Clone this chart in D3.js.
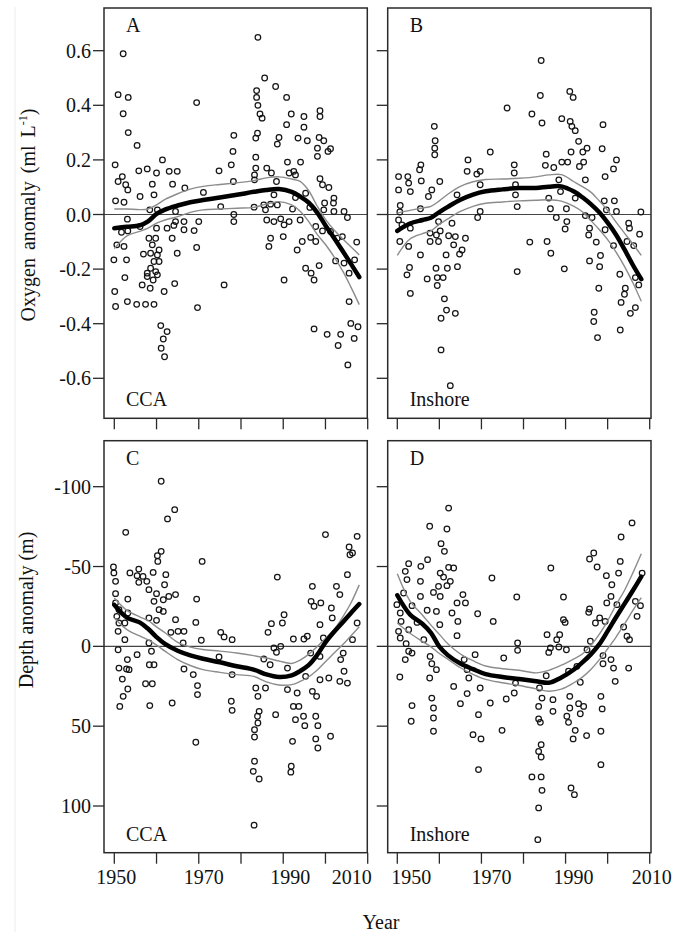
<!DOCTYPE html>
<html><head><meta charset="utf-8">
<script src="https://cdn.jsdelivr.net/npm/d3@7"></script>
<style>
html,body{margin:0;padding:0;background:#fff;}
svg text{font-family:"Liberation Serif","DejaVu Serif",serif;fill:#111;}
</style></head><body>
<svg id="chart" width="677" height="932"></svg>
<script>
// ---------------- DATA ----------------
const xTicks = [1950,1960,1970,1980,1990,2000,2010];
const xTickLabels = [1950,1970,1990,2010];
const oxyTicks = [0.6,0.4,0.2,0.0,-0.2,-0.4,-0.6];
const depthTicks = [-100,-50,0,50,100];

// Oxygen anomaly, CCA (panel A): [year, ml/L]
const oxyCCA = [[1952.1,0.589],[1950.9,0.439],[1953.3,0.429],[1952.1,0.369],[1953.3,0.300],[1955.4,0.253],[1969.5,0.410],[1978.3,0.290],[1978.1,0.231],[1977.7,0.182],[1974.8,0.160],[1978.2,0.121],[1950.2,0.182],[1961.4,0.200],[1955.8,0.160],[1957.8,0.167],[1960.0,0.152],[1963.0,0.158],[1964.9,0.158],[1951.9,0.139],[1950.9,0.121],[1952.7,0.109],[1953.2,0.090],[1959.0,0.111],[1963.8,0.111],[1966.7,0.097],[1971.1,0.081],[1956.1,0.066],[1959.4,0.072],[1950.3,0.050],[1952.3,0.045],[1958.4,0.017],[1960.2,0.017],[1964.5,0.011],[1975.2,0.029],[1978.3,0.000],[1978.3,-0.026],[1953.1,-0.017],[1964.5,-0.026],[1966.5,-0.026],[1970.0,-0.026],[1951.7,-0.065],[1956.1,-0.044],[1960.0,-0.050],[1962.5,-0.050],[1964.1,-0.040],[1966.5,-0.056],[1968.9,-0.059],[1953.2,-0.060],[1958.2,-0.087],[1959.8,-0.087],[1963.7,-0.087],[1950.6,-0.111],[1952.3,-0.117],[1969.5,-0.121],[1964.9,-0.142],[1956.9,-0.145],[1958.6,-0.142],[1960.2,-0.148],[1949.9,-0.166],[1952.9,-0.166],[1959.4,-0.172],[1960.6,-0.172],[1958.6,-0.197],[1959.8,-0.209],[1957.8,-0.227],[1959.2,-0.240],[1956.6,-0.258],[1958.5,-0.270],[1952.5,-0.231],[1964.3,-0.253],[1961.8,-0.282],[1976.0,-0.258],[1950.1,-0.282],[1950.3,-0.337],[1953.1,-0.319],[1955.3,-0.329],[1957.4,-0.329],[1959.4,-0.329],[1969.7,-0.341],[1961.0,-0.407],[1962.5,-0.429],[1961.6,-0.456],[1961.1,-0.490],[1961.9,-0.521],[1959.0,-0.111],[1960.6,-0.130],[1957.8,-0.215],[1960.2,-0.221],
[1984.0,0.649],[1985.6,0.500],[1988.2,0.469],[1983.7,0.454],[1983.7,0.429],[1984.0,0.400],[1984.5,0.368],[1985.0,0.353],[1990.8,0.429],[1991.9,0.368],[1994.9,0.359],[1998.7,0.380],[1998.7,0.359],[1990.8,0.329],[1994.9,0.320],[1983.9,0.298],[1983.5,0.280],[1989.0,0.282],[1988.6,0.258],[1993.5,0.280],[1995.7,0.270],[1998.5,0.282],[1999.6,0.270],[1998.1,0.243],[2001.2,0.241],[2000.6,0.231],[1998.1,0.213],[1983.5,0.210],[1991.0,0.192],[1994.1,0.192],[1983.5,0.170],[1986.1,0.170],[1987.2,0.152],[1991.4,0.152],[1992.5,0.158],[1992.9,0.145],[1983.2,0.145],[1983.2,0.127],[1988.4,0.121],[1998.7,0.131],[1999.3,0.109],[2000.8,0.099],[1987.8,0.072],[1995.3,0.078],[1992.9,0.062],[2002.0,0.060],[1983.1,0.027],[1985.4,0.035],[1987.0,0.038],[1988.6,0.035],[1992.2,0.020],[1996.3,0.026],[1999.8,0.042],[2001.9,0.042],[1999.6,0.017],[2002.0,0.011],[2004.4,0.011],[2005.2,-0.011],[1985.8,0.017],[1986.1,-0.020],[1987.8,-0.026],[1989.4,-0.016],[1990.2,-0.038],[1991.4,-0.026],[1994.0,-0.020],[1990.0,-0.081],[1987.0,-0.087],[1986.6,-0.117],[1993.3,-0.130],[1994.5,-0.099],[1996.5,-0.084],[1997.7,-0.099],[1997.7,-0.044],[1999.3,-0.060],[2001.2,-0.062],[2002.8,-0.087],[2004.0,-0.081],[2007.4,-0.101],[2002.4,-0.170],[2004.4,-0.178],[2006.9,-0.166],[2005.6,-0.215],[1995.3,-0.197],[1996.6,-0.215],[1998.5,-0.187],[1997.3,-0.240],[1990.2,-0.240],[2005.6,-0.319],[1997.3,-0.419],[2000.4,-0.439],[2003.6,-0.439],[2006.0,-0.399],[2007.7,-0.411],[2006.8,-0.454],[2003.0,-0.480],[2005.3,-0.551]];

// Oxygen anomaly, Inshore (panel B)
const oxyInshore = [[1958.8,0.323],[1959.0,0.270],[1958.9,0.243],[1958.9,0.219],[1976.1,0.390],[1972.1,0.229],[1966.8,0.200],[1955.6,0.182],[1955.3,0.164],[1966.6,0.158],[1969.7,0.158],[1968.9,0.148],[1950.3,0.139],[1952.5,0.139],[1952.7,0.115],[1955.7,0.123],[1960.1,0.121],[1950.3,0.090],[1953.1,0.084],[1958.2,0.090],[1957.4,0.066],[1964.2,0.072],[1955.5,0.021],[1969.7,0.109],[1977.8,0.182],[1977.8,0.152],[1978.1,0.109],[1978.1,0.072],[1978.5,0.029],[1969.7,0.011],[1969.1,-0.011],[1950.7,0.033],[1950.6,0.009],[1950.3,-0.020],[1951.1,-0.038],[1953.1,-0.050],[1959.8,-0.026],[1963.0,-0.032],[1957.8,-0.068],[1959.3,-0.075],[1960.2,-0.060],[1962.2,-0.078],[1963.8,-0.081],[1966.2,-0.087],[1957.8,-0.099],[1959.8,-0.099],[1963.4,-0.111],[1965.4,-0.130],[1950.6,-0.099],[1952.7,-0.117],[1955.5,-0.148],[1961.6,-0.148],[1964.8,-0.145],[1964.3,-0.191],[1961.9,-0.197],[1959.2,-0.197],[1957.1,-0.236],[1959.5,-0.231],[1960.9,-0.231],[1952.9,-0.194],[1952.3,-0.221],[1959.5,-0.260],[1953.1,-0.289],[1961.2,-0.309],[1961.7,-0.350],[1963.8,-0.362],[1960.4,-0.380],[1978.5,-0.209],[1960.4,-0.496],[1962.6,-0.627],
[1984.2,0.564],[1984.0,0.436],[1991.0,0.451],[1991.8,0.429],[1982.0,0.368],[1984.4,0.335],[1989.1,0.351],[1991.1,0.341],[1991.5,0.323],[1992.3,0.307],[1998.9,0.329],[1993.1,0.268],[1995.1,0.243],[1998.7,0.241],[1985.4,0.221],[1991.3,0.229],[1994.1,0.229],[2002.1,0.200],[1989.1,0.192],[1990.5,0.192],[1994.3,0.192],[1985.2,0.180],[1987.2,0.172],[1993.3,0.176],[2001.4,0.167],[1999.4,0.139],[1994.7,0.127],[1988.4,0.127],[1988.8,0.084],[1992.3,0.060],[1986.0,0.060],[1986.4,0.021],[1990.2,0.021],[1987.8,-0.011],[1994.7,-0.004],[1996.3,-0.011],[1999.2,0.050],[2001.6,0.050],[1999.7,0.017],[2002.1,0.011],[2007.9,0.009],[1990.3,-0.026],[1989.9,-0.053],[1995.7,-0.050],[1995.5,-0.075],[1997.3,-0.101],[1999.4,-0.056],[2001.4,-0.114],[2005.0,-0.032],[2005.2,-0.050],[2007.6,-0.072],[2004.6,-0.099],[2006.2,-0.114],[1981.5,-0.101],[1985.6,-0.099],[1986.5,-0.142],[1989.7,-0.199],[1995.7,-0.170],[1998.3,-0.150],[1998.1,-0.191],[2002.9,-0.219],[2006.6,-0.231],[2007.4,-0.258],[1997.9,-0.270],[2004.2,-0.270],[2004.0,-0.292],[2003.2,-0.322],[2006.6,-0.341],[2005.4,-0.362],[1996.8,-0.358],[1996.7,-0.392],[2003.0,-0.423],[1997.6,-0.451]];

// Depth anomaly, CCA (panel C): [year, m]
const depthCCA = [[1961.1,-103.4],[1964.3,-85.6],[1962.6,-79.8],[1952.7,-71.4],[1961.1,-59.5],[1960.2,-56.8],[1960.3,-53.2],[1970.8,-53.2],[1949.8,-49.7],[1949.9,-46.0],[1953.7,-46.0],[1955.8,-48.4],[1955.4,-44.3],[1956.8,-43.8],[1959.2,-46.3],[1962.2,-44.9],[1955.8,-40.1],[1957.7,-40.7],[1950.3,-40.7],[1961.9,-38.6],[1958.2,-35.5],[1960.0,-33.0],[1950.3,-33.0],[1964.5,-32.4],[1962.9,-31.3],[1961.6,-29.2],[1959.4,-28.2],[1969.5,-29.6],[1953.2,-29.6],[1950.3,-27.2],[1951.1,-23.0],[1960.6,-23.0],[1961.6,-21.9],[1953.2,-20.9],[1950.6,-18.8],[1958.2,-17.8],[1960.0,-16.3],[1964.5,-16.7],[1969.3,-15.0],[1951.1,-14.6],[1952.5,-14.6],[1950.9,-9.4],[1963.4,-8.8],[1965.1,-9.4],[1966.5,-9.4],[1975.2,-8.8],[1976.0,-5.9],[1977.9,-4.2],[1970.6,-3.8],[1952.5,-4.2],[1958.2,-2.1],[1966.3,-2.1],[1950.9,2.1],[1955.4,5.2],[1958.8,3.1],[1974.8,6.7],[1953.1,8.3],[1951.1,13.6],[1952.9,14.2],[1953.5,14.6],[1958.3,11.5],[1959.4,11.5],[1966.5,14.2],[1968.7,17.7],[1951.9,20.5],[1953.2,26.7],[1952.1,31.3],[1957.4,23.4],[1959.0,23.4],[1969.7,24.6],[1969.7,30.2],[1963.7,35.5],[1958.4,37.1],[1951.3,37.6],[1977.7,34.4],[1977.9,40.1],[1977.9,17.7],[1969.3,60.1],
[2000.0,-70.0],[2007.5,-68.9],[2005.6,-62.2],[2005.8,-57.4],[2006.4,-58.5],[1988.6,-43.4],[2005.2,-44.9],[1996.9,-37.6],[2002.6,-37.6],[2003.4,-32.4],[1996.6,-28.2],[1998.9,-27.2],[1997.3,-25.1],[2001.4,-24.0],[2001.6,-17.8],[1990.2,-19.8],[1989.8,-14.6],[1987.2,-14.2],[1986.4,-8.8],[1998.7,-13.6],[2007.5,-14.6],[2006.4,-4.2],[1992.4,-4.6],[1994.9,-4.6],[1995.7,-6.3],[1999.5,-5.2],[1987.8,1.0],[1989.4,0.0],[1988.4,3.7],[1985.4,7.9],[1986.9,11.5],[1991.0,13.6],[1996.5,4.2],[1998.7,6.3],[2003.6,8.3],[2004.2,4.2],[2004.4,15.6],[2005.2,23.0],[2003.4,21.9],[1995.3,18.8],[1998.7,20.9],[2000.8,19.8],[1996.9,28.2],[1997.9,31.3],[1983.5,26.1],[1984.0,31.3],[1985.8,26.1],[1991.0,27.1],[1993.3,29.2],[1984.3,40.7],[1983.9,43.8],[1984.0,48.0],[1983.2,52.2],[1983.2,56.8],[1988.2,42.8],[1992.4,37.6],[1993.7,37.6],[1992.9,45.9],[1994.8,43.8],[1995.1,49.7],[1997.7,43.8],[1998.2,49.7],[1997.7,58.0],[1998.2,63.7],[2001.2,56.3],[1992.2,59.5],[1983.2,72.0],[1982.9,78.3],[1984.3,83.1],[1991.9,75.1],[1991.8,78.8],[1983.1,112.0]];

// Depth anomaly, Inshore (panel D)
const depthInshore = [[1962.2,-86.6],[1957.7,-75.2],[1961.8,-73.5],[1960.4,-64.3],[1961.2,-59.5],[1957.2,-54.3],[1952.7,-51.8],[1955.6,-50.1],[1962.2,-49.5],[1963.4,-49.1],[1951.9,-47.0],[1960.2,-45.9],[1952.3,-41.8],[1955.5,-40.7],[1961.0,-43.4],[1962.6,-40.7],[1972.5,-42.8],[1959.8,-37.6],[1961.8,-38.0],[1951.5,-33.4],[1955.5,-31.3],[1958.6,-33.8],[1960.2,-31.3],[1965.6,-32.4],[1978.4,-30.9],[1949.9,-26.1],[1953.5,-25.5],[1964.2,-27.2],[1966.2,-27.2],[1959.3,-21.9],[1957.1,-22.6],[1950.7,-20.9],[1963.0,-20.9],[1969.1,-20.4],[1972.8,-15.6],[1964.4,-15.6],[1950.9,-15.6],[1954.7,-15.0],[1960.1,-13.6],[1950.3,-9.4],[1952.7,-10.4],[1964.2,-6.7],[1950.7,-5.2],[1956.3,-4.2],[1952.1,-1.7],[1978.6,-2.1],[1978.6,2.5],[1952.7,3.1],[1953.5,4.2],[1951.9,8.3],[1957.8,6.3],[1958.2,10.9],[1959.3,14.6],[1957.7,19.8],[1950.6,19.2],[1968.5,5.2],[1975.3,7.3],[1965.9,8.3],[1966.6,14.6],[1967.0,19.8],[1963.4,25.1],[1969.7,26.1],[1966.6,29.6],[1965.0,35.9],[1972.1,35.5],[1969.3,42.8],[1975.9,33.0],[1977.8,29.2],[1978.1,23.0],[1953.5,37.1],[1958.2,32.4],[1958.6,38.6],[1958.6,44.9],[1953.3,46.9],[1958.6,53.2],[1968.0,55.3],[1969.9,58.0],[1974.9,52.6],[1969.3,77.2],
[2005.8,-77.3],[2003.2,-68.5],[1996.7,-58.5],[1995.7,-54.7],[1997.5,-49.7],[1986.5,-49.1],[2003.0,-53.2],[2002.6,-45.9],[1999.7,-44.3],[2001.0,-38.6],[2008.2,-45.9],[1989.5,-30.9],[2000.8,-31.3],[1999.8,-27.2],[2002.2,-26.1],[2006.6,-28.2],[2007.8,-25.5],[2007.0,-18.8],[1995.7,-23.4],[1995.5,-21.3],[1989.5,-16.7],[1989.9,-15.0],[1998.1,-17.8],[1997.1,-14.6],[1999.4,-15.6],[2003.8,-12.1],[2004.6,-6.3],[2005.2,-4.2],[1985.6,-7.3],[1988.6,-7.3],[1987.9,-4.2],[1986.4,1.0],[1988.4,0.4],[1990.2,2.1],[1986.0,3.8],[1995.1,2.1],[1995.9,-3.2],[1998.9,5.8],[2000.8,8.3],[2001.4,13.6],[1998.9,10.9],[2001.8,21.9],[2005.0,13.6],[1992.7,12.5],[1990.7,15.6],[1993.5,22.5],[1985.4,18.4],[1983.8,26.1],[1984.4,32.4],[1983.6,37.6],[1987.0,33.4],[1987.0,40.7],[1991.0,31.3],[1993.1,35.9],[1994.3,37.6],[1993.5,42.2],[1991.0,38.6],[1990.3,43.8],[1990.7,47.6],[1983.6,45.5],[1984.0,47.6],[1998.4,31.3],[1998.7,39.2],[1998.4,53.2],[1995.0,55.9],[1992.3,52.6],[1991.8,58.0],[1984.2,61.6],[1983.6,65.8],[1984.2,69.3],[1998.4,74.1],[1982.0,81.8],[1984.2,81.8],[1984.4,90.2],[1991.3,88.7],[1992.1,92.9],[1983.6,101.2],[1983.4,121.1]];

// Smoothed trend and confidence bands (read at these years)
const fitYears = [1950,1953,1956,1958,1960,1962,1965,1968,1971,1975,1979,1983,1986,1989,1992,1994,1996,1998,2000,2002,2004,2006,2008];
const fitA   = [-0.050,-0.045,-0.040,-0.025,0.002,0.018,0.033,0.045,0.053,0.062,0.072,0.083,0.090,0.093,0.083,0.066,0.044,0.008,-0.040,-0.085,-0.132,-0.180,-0.229];
const upperA = [0.020,0.020,0.018,0.020,0.035,0.055,0.076,0.093,0.103,0.110,0.116,0.124,0.134,0.138,0.130,0.121,0.088,0.032,-0.018,-0.056,-0.088,-0.118,-0.148];
const lowerA = [-0.125,-0.078,-0.062,-0.050,-0.032,-0.020,-0.008,0.008,0.017,0.020,0.023,0.026,0.038,0.047,0.035,0.012,-0.025,-0.072,-0.110,-0.154,-0.205,-0.265,-0.330];
const fitB   = [-0.060,-0.033,-0.020,-0.012,0.009,0.028,0.054,0.073,0.085,0.092,0.097,0.097,0.102,0.103,0.084,0.063,0.038,0.008,-0.030,-0.074,-0.128,-0.185,-0.237];
const upperB = [0.005,0.015,0.024,0.030,0.050,0.074,0.103,0.120,0.128,0.130,0.133,0.138,0.145,0.146,0.120,0.102,0.082,0.050,0.015,-0.028,-0.068,-0.108,-0.150];
const lowerB = [-0.150,-0.090,-0.070,-0.060,-0.036,-0.016,0.011,0.030,0.041,0.046,0.050,0.052,0.054,0.049,0.030,0.010,-0.022,-0.055,-0.092,-0.138,-0.190,-0.250,-0.318];
const fitC   = [-26,-18,-15,-11,-5.8,-1.5,2.8,5.7,7.8,10.0,12.5,14.6,17.6,19.2,18.2,15.5,11.8,5.5,-2.5,-9,-14.8,-20.8,-26.5];
const upperC = [-30.3,-22.5,-18.5,-16.2,-12.2,-8.5,-2.5,0.5,2.0,3.0,4.2,5.8,7.3,9.2,10.7,8.6,5.0,0.2,-5.0,-10.4,-18,-27,-38.5];
const lowerC = [-17.8,-10.5,-6.5,-4.0,-0.8,3.0,8.3,12.0,14.6,16.3,17.7,18.8,22.3,24.2,24.0,22.0,19.2,15.0,9.6,4.3,-0.8,-6.5,-12.3];
const fitD   = [-32,-20,-14,-8.5,0.2,5.5,10.8,14.3,17.4,19.2,20.4,21.8,22.8,19.5,14.5,10.0,5.0,-1.2,-9.5,-18.2,-26.6,-35,-43.7];
const upperD = [-45.5,-28.5,-19.5,-13.3,-7.5,-1.6,4.8,9.0,12.3,14.0,15.0,16.6,15.0,11.8,7.8,4.8,-0.5,-7.5,-16.0,-26.0,-35.0,-46,-58];
const lowerD = [-14.6,-8.2,-3.0,0.3,4.5,8.0,13.4,17.5,20.7,22.8,24.5,26.6,28.1,26.8,22.8,19.3,14.5,8.5,1.5,-5.8,-14.0,-22.5,-30.5];

// ---------------- LAYOUT ----------------
const svg = d3.select("#chart");
const colL = {box:[104,367.3], ticks:[114.3,367.7], labelShift:[2,5,7,-16]};
const colR = {box:[387.7,651], ticks:[397.3,649.7], labelShift:[14,10,8,2]};
const rowT = {box:[8,418.3], dom:[0.6,-0.6], rng:[50.7,378.3], ticks:oxyTicks, fmt:v=>v.toFixed(1)};
const rowB = {box:[440.7,852.7], dom:[-100,100], rng:[486.7,806], ticks:depthTicks, fmt:v=>String(v)};

const panels = [
  {col:colL,row:rowT,pts:oxyCCA,fit:fitA,up:upperA,lo:lowerA,letter:"A",name:"CCA",yLabels:true,xLabels:false},
  {col:colR,row:rowT,pts:oxyInshore,fit:fitB,up:upperB,lo:lowerB,letter:"B",name:"Inshore",yLabels:false,xLabels:false},
  {col:colL,row:rowB,pts:depthCCA,fit:fitC,up:upperC,lo:lowerC,letter:"C",name:"CCA",yLabels:true,xLabels:true},
  {col:colR,row:rowB,pts:depthInshore,fit:fitD,up:upperD,lo:lowerD,letter:"D",name:"Inshore",yLabels:false,xLabels:true}
];

// faint border line at left
svg.append("line").attr("x1",15).attr("x2",15).attr("y1",7).attr("y2",932)
  .attr("stroke","#ececec").attr("stroke-width",1);

panels.forEach(p=>{
  const x = d3.scaleLinear().domain([1950,2010]).range(p.col.ticks);
  const y = d3.scaleLinear().domain(p.row.dom).range(p.row.rng);
  const [bx0,bx1] = p.col.box, [by0,by1] = p.row.box;
  const g = svg.append("g");

  // zero line
  g.append("line").attr("x1",bx0).attr("x2",bx1).attr("y1",y(0)).attr("y2",y(0))
    .attr("stroke","#444").attr("stroke-width",1.1);

  // points
  g.append("g").selectAll("circle").data(p.pts).join("circle")
    .attr("cx",d=>x(d[0])).attr("cy",d=>y(d[1])).attr("r",2.8)
    .attr("fill","none").attr("stroke","#151515").attr("stroke-width",1.25);

  const line = d3.line().x((d,i)=>x(fitYears[i])).y(d=>y(d)).curve(d3.curveCatmullRom.alpha(0.5));
  g.append("path").attr("d",line(p.up)).attr("fill","none").attr("stroke","#8c8c8c").attr("stroke-width",1.4);
  g.append("path").attr("d",line(p.lo)).attr("fill","none").attr("stroke","#8c8c8c").attr("stroke-width",1.4);
  g.append("path").attr("d",line(p.fit)).attr("fill","none").attr("stroke","#000").attr("stroke-width",4.5)
    .attr("stroke-linejoin","round").attr("stroke-linecap","round");

  // box
  g.append("rect").attr("x",bx0).attr("y",by0).attr("width",bx1-bx0).attr("height",by1-by0)
    .attr("fill","none").attr("stroke","#2a2a2a").attr("stroke-width",1.5);

  // y ticks
  p.row.ticks.forEach(t=>{
    g.append("line").attr("x1",bx0-11).attr("x2",bx0).attr("y1",y(t)).attr("y2",y(t))
      .attr("stroke","#2a2a2a").attr("stroke-width",1.3);
    if(p.yLabels){
      g.append("text").attr("x",bx0-13).attr("y",y(t)).attr("dy","0.35em")
        .attr("text-anchor","end").attr("font-size",20).text(p.row.fmt(t));
    }
  });
  // x ticks
  xTicks.forEach(t=>{
    g.append("line").attr("x1",x(t)).attr("x2",x(t)).attr("y1",by1).attr("y2",by1+11)
      .attr("stroke","#2a2a2a").attr("stroke-width",1.3);
  });
  if(p.xLabels){
    xTickLabels.forEach((t,i)=>{
      g.append("text").attr("x",x(t)+p.col.labelShift[i]).attr("y",by1+31).attr("text-anchor","middle")
        .attr("font-size",20).text(t);
    });
  }
  g.append("text").attr("x",bx0+22).attr("y",by0+24).attr("font-size",20).text(p.letter);
  g.append("text").attr("x",bx0+22).attr("y",by1-12).attr("font-size",20).text(p.name);
});

// axis titles
const t1 = svg.append("text").attr("transform","translate(35,215) rotate(-90)")
  .attr("text-anchor","middle").attr("font-size",20).attr("word-spacing","3px");
t1.append("tspan").text("Oxygen anomaly (ml L");
t1.append("tspan").attr("font-size",12).attr("dy",-8).text("-1");
t1.append("tspan").attr("dy",8).text(")");

svg.append("text").attr("transform","translate(33,610) rotate(-90)")
  .attr("text-anchor","middle").attr("font-size",20).text("Depth anomaly (m)");

svg.append("text").attr("x",381).attr("y",929).attr("text-anchor","middle")
  .attr("font-size",20).text("Year");
</script>
</body></html>
